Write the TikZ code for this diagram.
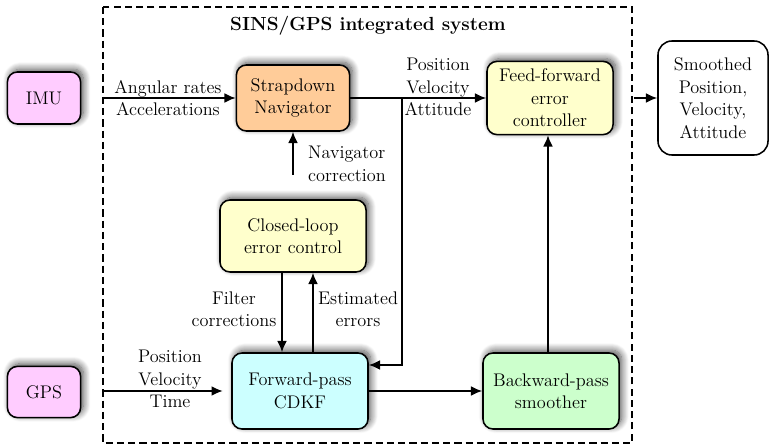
\documentclass[tikz,border=0pt]{standalone}
\usepackage{tikz}
\usetikzlibrary{calc,arrows.meta,shadows.blur}

\definecolor{imupink}{RGB}{255,204,255}
\definecolor{sdnorange}{RGB}{255,204,153}
\definecolor{ctlyellow}{RGB}{255,255,204}
\definecolor{fwdcyan}{RGB}{204,255,255}
\definecolor{bwdgreen}{RGB}{204,255,204}

\tikzset{
  block/.style={draw, line width=1.1pt, rounded corners=0.25cm, align=center,
    inner sep=2pt, blur shadow={shadow xshift=2pt, shadow yshift=2pt,
    shadow blur radius=5pt, shadow opacity=70, shadow blur steps=10}},
  lbl/.style={align=center, inner sep=0pt},
  conn/.style={line width=1.1pt, -{Latex[length=8pt,width=7pt]}},
}

\begin{document}
\begin{tikzpicture}[x=0.025cm, y=-0.025cm, font=\fontsize{13}{16}\selectfont]

\useasboundingbox (0,0) rectangle (769,445);

% frame of the integrated system
\coordinate (f1) at (103,7);
\coordinate (f2) at (632,443);
\draw[dashed, line width=1pt, dash pattern=on 5pt off 3pt] (f1) rectangle (f2);

\node[lbl, font=\fontsize{13.5}{16}\selectfont\bfseries] (title) at (368,26) {SINS/GPS integrated system};

% blocks
\node[block, fill=imupink, minimum width=1.83cm, minimum height=1.3cm] (imu) at (44,98) {IMU};

\node[block, fill=sdnorange, minimum width=2.83cm, minimum height=1.65cm] (sdn) at (293,98) {Strapdown\\Navigator};

\node[block, fill=ctlyellow, minimum width=3.15cm, minimum height=1.83cm] (ffc) at (550,98) {Feed-forward\\error\\controller};

\node[draw, line width=1.1pt, rounded corners=0.35cm, align=center, fill=white,
  minimum width=2.75cm, minimum height=2.85cm] (out) at (713,98) {Smoothed\\Position,\\Velocity,\\Attitude};

\node[block, fill=ctlyellow, minimum width=3.65cm, minimum height=1.8cm] (clc) at (293,236) {Closed-loop\\error control};

\node[block, fill=fwdcyan, minimum width=3.4cm, minimum height=1.9cm] (fwd) at (300,391) {Forward-pass\\CDKF};

\node[block, fill=bwdgreen, minimum width=3.4cm, minimum height=1.9cm] (bwd) at (551,391) {Backward-pass\\smoother};

\node[block, fill=imupink, minimum width=1.83cm, minimum height=1.28cm] (gps) at (44,392) {GPS};

% labels
\node[lbl] (imulbl) at (168,98) {Angular rates\\Accelerations};
\node[lbl] (pvalbl) at (438,87) {Position\\Velocity\\Attitude};
\node[lbl, align=left] (navlbl) at (347,164) {Navigator\\correction};
\node[lbl] (filbl) at (234,309) {Filter\\corrections};
\node[lbl] (estlbl) at (358,309) {Estimated\\errors};
\node[lbl] (gpslbl) at (170,379) {Position\\Velocity\\Time};

% connectors
\coordinate (imuin) at (104,98);
\coordinate (gpsin) at (104,391);
\coordinate (split) at (402,98);
\coordinate (navc) at (293,175);
\coordinate (outin) at (634,98);

\draw[conn] (imuin) -- (sdn.west);
\draw[conn] (sdn.east) -- (ffc.west);
\draw[conn] (split) |- ([yshift=0.65cm]fwd.east);
\draw[conn] (navc) -- (sdn.south);
\draw[conn] ([xshift=-0.275cm]clc.south) -- ([xshift=-0.275cm]clc.south |- fwd.north);
\draw[conn] ([xshift=0.5cm]clc.south |- fwd.north) -- ([xshift=0.5cm]clc.south);
\draw[conn, shorten >=6pt] (gpsin) -- (gpsin -| fwd.west);
\draw[conn] (fwd.east |- bwd.west) -- (bwd.west);
\draw[conn] ([xshift=-0.075cm]bwd.north) -- ([xshift=-0.075cm]bwd.north |- ffc.south);
\draw[conn] (outin) -- (out.west);

\end{tikzpicture}
\end{document}
